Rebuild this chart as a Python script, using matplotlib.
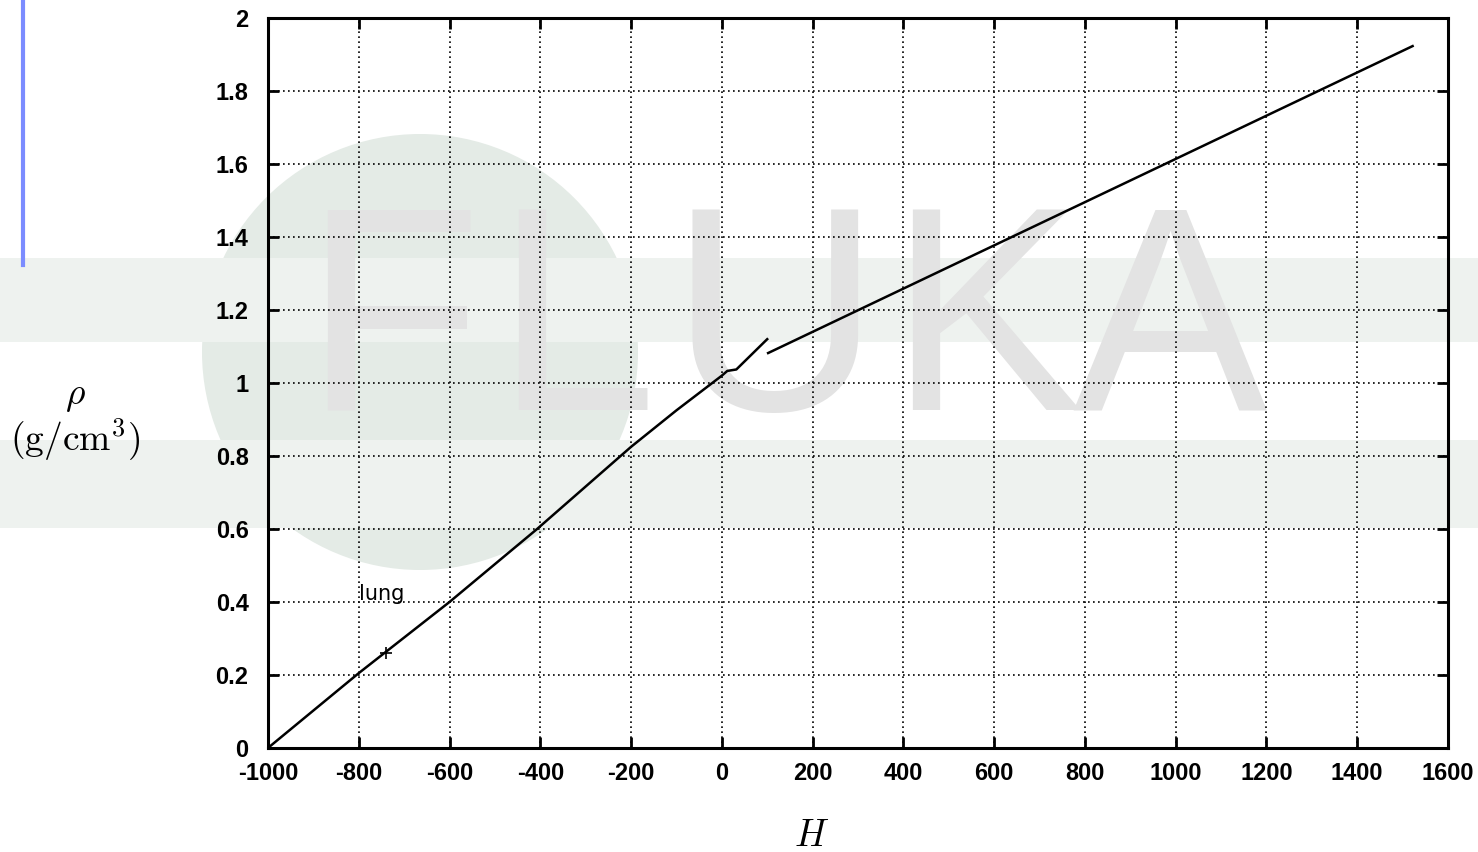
import matplotlib
matplotlib.use("Agg")
import matplotlib.pyplot as plt
from matplotlib.patches import Circle, Rectangle

plt.rcParams["mathtext.fontset"] = "cm"
plt.rcParams["axes.unicode_minus"] = False

# HU -> density curve (two pieces)
hu_low = [-1000, -800, -600, -407, -200, -100, 0, 12, 32, 100]
rho_low = [0.0, 0.205, 0.4, 0.6, 0.825, 0.925, 1.02, 1.033, 1.037, 1.12]
hu_high = [102, 1522]
rho_high = [1.082, 1.923]

# lung marker
lung_hu = [-740]
lung_rho = [0.26]

xticks = list(range(-1000, 1601, 200))
yticks = [0, 0.2, 0.4, 0.6, 0.8, 1, 1.2, 1.4, 1.6, 1.8, 2]
ytick_labels = ["0", "0.2", "0.4", "0.6", "0.8", "1", "1.2", "1.4", "1.6", "1.8", "2"]

fig = plt.figure(figsize=(14.78, 8.52), dpi=100)
fig.patch.set_facecolor("white")

# background watermark (FLUKA logo)
bg = fig.add_axes([0, 0, 1, 1], zorder=0)
bg.set_xlim(0, 1478)
bg.set_ylim(852, 0)
bg.axis("off")
bg.add_patch(Circle((420, 352), 218, color="#e4ebe6", lw=0))
bg.add_patch(Rectangle((0, 258), 1478, 84, color="#eef2ef", lw=0))
bg.add_patch(Rectangle((0, 440), 1478, 88, color="#eef2ef", lw=0))
for ch, px in zip("FLUKA", [392, 575, 775, 985, 1170]):
    bg.text(px, 410, ch, fontsize=210, color="#e3e3e3", family="Liberation Sans",
            ha="center", va="baseline")
bg.plot([23, 23], [0, 265], color="#7b8cff", lw=3)

ax = fig.add_axes([0.1813, 0.1221, 0.7984, 0.8568], zorder=1)
ax.patch.set_alpha(0)

ax.plot(hu_low, rho_low, color="black", lw=1.8)
ax.plot(hu_high, rho_high, color="black", lw=1.8)
ax.plot(lung_hu, lung_rho, marker="+", color="black", ms=8, mew=1.2, ls="none")
ax.text(-800, 0.395, "lung", fontsize=15, family="DejaVu Sans", va="bottom", ha="left")

ax.set_xlim(-1000, 1600)
ax.set_ylim(0, 2)
ax.set_xticks(xticks)
ax.set_yticks(yticks)
ax.set_yticklabels(ytick_labels)
ax.grid(True, color="black", ls=(0, (1, 2)), lw=1.2)
ax.tick_params(direction="in", length=8, width=2, top=True, right=True,
               labelsize=17)
ax.tick_params(axis="y", pad=14)
ax.tick_params(axis="x", pad=10)
for lab in ax.get_xticklabels() + ax.get_yticklabels():
    lab.set_fontweight("bold")
    lab.set_family("Liberation Sans")
for s in ax.spines.values():
    s.set_linewidth(2.2)

fig.text(75 / 1478, 1 - 396 / 852, r"$\rho$", fontsize=27, ha="center", va="center")
fig.text(75 / 1478, 1 - 440 / 852, r"$(\mathrm{g/cm^3})$", fontsize=27,
         ha="center", va="center")
fig.text(812 / 1478, 1 - 836 / 852, r"$H$", fontsize=27, ha="center", va="center")

fig.savefig("out.png", dpi=100)
